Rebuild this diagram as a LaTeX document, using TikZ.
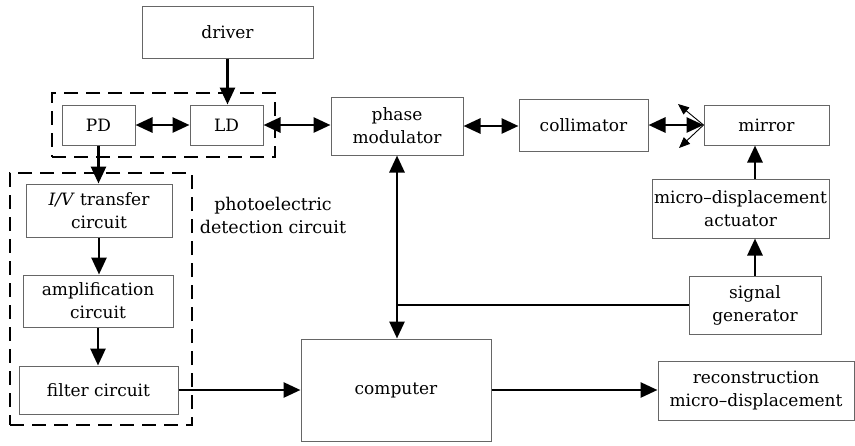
\documentclass[tikz,border=0pt]{standalone}
\usepackage{fontspec}
\setmainfont{DejaVu Serif}
\usetikzlibrary{arrows.meta}
\begin{document}
\begin{tikzpicture}[x=1pt,y=-1pt,
  box/.style={draw=black!60, line width=1pt, align=center, inner sep=0pt,
    font=\fontsize{17}{23}\selectfont},
  label/.style={align=center, font=\fontsize{17.5}{23}\selectfont},
  link/.style={line width=2.8pt, -{Triangle[length=17pt,width=15pt]}},
  dlink/.style={line width=2.8pt,
    {Triangle[length=17pt,width=15pt]}-{Triangle[length=17pt,width=15pt]}},
  plain/.style={line width=2.8pt},
  beam/.style={line width=0.9pt, -{Triangle[length=11pt,width=9pt]}},
  group/.style={draw, line width=2.8pt, dash pattern=on 14pt off 8pt,
    inner sep=0pt}]
\useasboundingbox (0,0) rectangle (855,445);

% dashed groups
\node[group, minimum width=223pt, minimum height=64pt] (laser) at (163.5,125) {};
\node[group, minimum width=182pt, minimum height=252pt] (detect) at (101,299) {};

% blocks
\node[box, minimum width=171pt, minimum height=52pt] (driver) at (227.5,32) {driver};
\node[box, minimum width=73pt, minimum height=40pt] (PD) at (98.5,125) {PD};
\node[box, minimum width=73pt, minimum height=40pt] (LD) at (226.5,125) {LD};
\node[box, minimum width=132pt, minimum height=58pt] (phase) at (397,126) {phase\\modulator};
\node[box, minimum width=129pt, minimum height=52pt] (coll) at (583.5,125) {collimator};
\node[box, minimum width=125pt, minimum height=40pt] (mirror) at (766.5,125) {mirror};
\node[box, minimum width=177pt, minimum height=59pt] (act) at (740.5,208.5) {micro--displacement\\actuator};
\node[box, minimum width=132pt, minimum height=58pt] (sig) at (755,305) {signal\\generator};
\node[box, minimum width=190pt, minimum height=102pt] (comp) at (396,390) {computer};
\node[box, minimum width=196pt, minimum height=59pt] (recon) at (756,390.5) {reconstruction\\micro--displacement};
\node[box, minimum width=146pt, minimum height=53pt] (iv) at (99,210.5) {\textit{I/V} transfer\\circuit};
\node[box, minimum width=150pt, minimum height=52pt] (amp) at (98,301) {amplification\\circuit};
\node[box, minimum width=159pt, minimum height=48pt] (filt) at (98.5,390) {filter circuit};
\node[label] (pdc) at (273,215) {photoelectric\\detection circuit};

% beam reflection points
\coordinate (r1) at (678,104);
\coordinate (r2) at (679,148);

% connectors
\draw[link] (driver.south) -- (driver.south |- LD.north);
\draw[dlink] (PD.east) -- (LD.west);
\draw[dlink] (LD.east) -- (LD.east -| phase.west);
\draw[dlink] (phase.east) -- (phase.east -| coll.west);
\draw[dlink] (coll.east) -- (coll.east -| mirror.west);
\draw[beam] (mirror.west) -- (r1);
\draw[beam] (mirror.west) -- (r2);
\draw[link] (PD.south) -- (PD.south |- iv.north);
\draw[link] (iv.south) -- (iv.south |- amp.north);
\draw[link] (amp.south) -- (amp.south |- filt.north);
\draw[link] (filt.east) -- (filt.east -| comp.west);
\draw[link] (comp.east) -- (comp.east -| recon.west);
\draw[dlink] (phase.south) -- (phase.south |- comp.north);
\draw[plain] (sig.west) -- (sig.west -| phase.south);
\draw[link] (sig.north) -- (sig.north |- act.south);
\draw[link] (sig.north |- act.north) -- (sig.north |- mirror.south);
\end{tikzpicture}
\end{document}
